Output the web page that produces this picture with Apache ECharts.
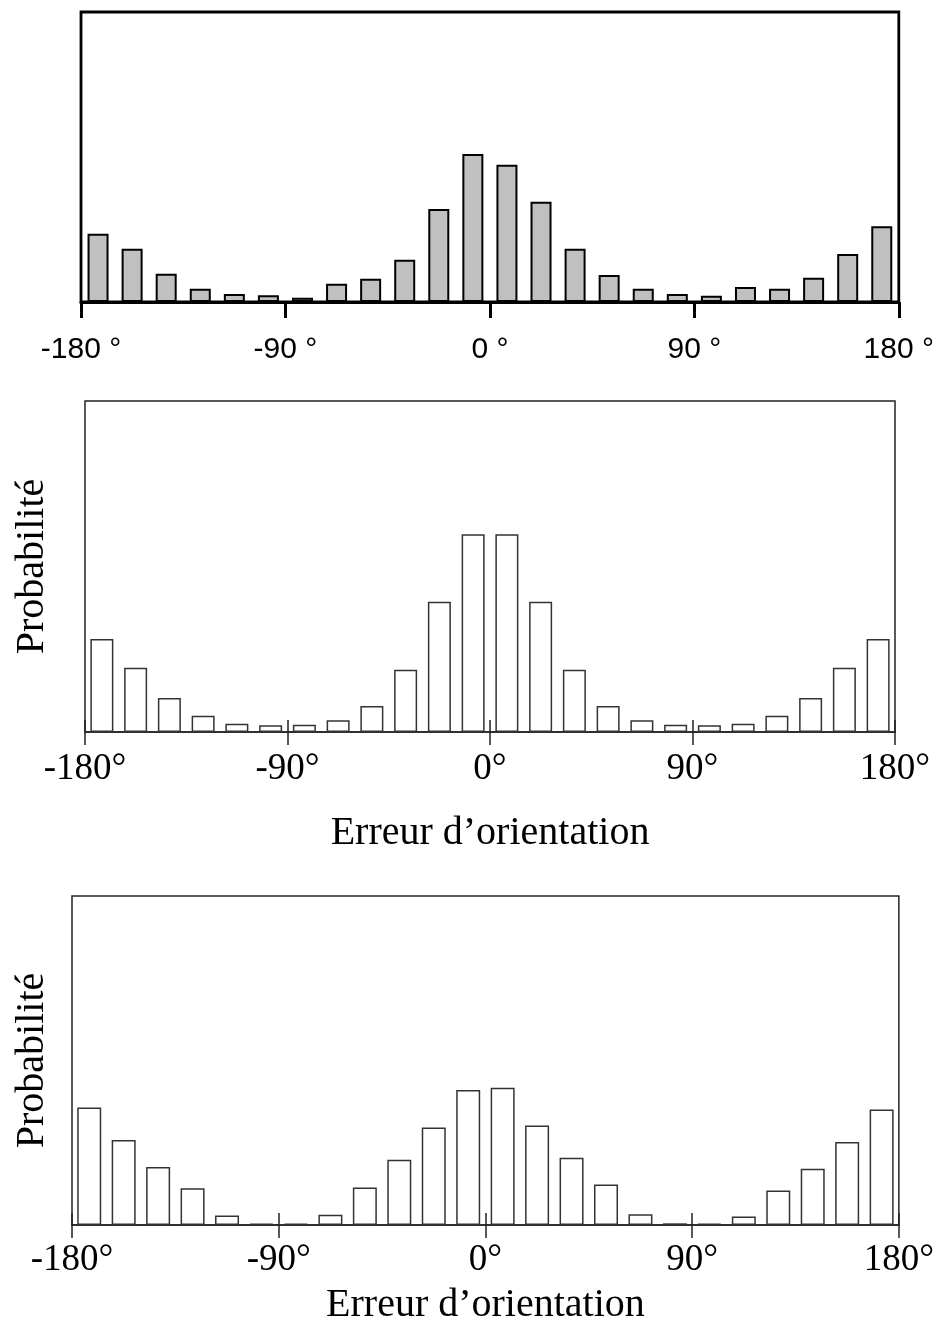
<!DOCTYPE html>
<html>
<head>
<meta charset="utf-8">
<script src="https://cdn.jsdelivr.net/npm/echarts@6/dist/echarts.min.js"></script>
<style>
html,body{margin:0;padding:0;background:#fff;}
#chart{width:937px;height:1326px;}
</style>
</head>
<body>
<div id="chart"></div>
<script>
// Bin centres (degrees), 15° bins from -180° to 180°
const binCenters = [-172.5, -157.5, -142.5, -127.5, -112.5, -97.5, -82.5, -67.5, -52.5, -37.5, -22.5, -7.5,
                    7.5, 22.5, 37.5, 52.5, 67.5, 82.5, 97.5, 112.5, 127.5, 142.5, 157.5, 172.5];
const tickValues = [-180, -90, 0, 90, 180];
const xAxisTitle = "Erreur d\u2019orientation";
const yAxisTitle = "Probabilité";

// Relative bar heights
const panelTop = [68.3, 53.3, 28.3, 13.3, 8, 6.7, 4.3, 18.3, 23.3, 42.3, 93, 148,
                  137.3, 100.3, 53.3, 27, 13.3, 8, 6.3, 15, 13.3, 24.3, 48, 75.7];
const panelMiddle = [93, 64.3, 34, 16.3, 8.3, 6.7, 7.3, 11.7, 26, 62.3, 130.3, 197.7,
                     197.7, 130.3, 62.3, 26, 11.7, 7.3, 6.7, 8.3, 16.3, 34, 64.3, 93];
const panelBottom = [119, 86, 58.7, 37.3, 9.7, 1.3, 1.3, 10.3, 38, 66, 98.7, 136.7,
                     139, 100.7, 68, 41, 11, 1.7, 1.3, 8.7, 35, 57, 84, 117];
const yMax = [290, 331, 333];

const pairs = vals => binCenters.map((c, i) => [c, vals[i]]);

const chart = echarts.init(document.getElementById('chart'), null, {renderer: 'canvas'});

const serif = 'Liberation Serif';
const sans = 'Liberation Sans';

const option = {
  animation: false,
  backgroundColor: '#fff',
  grid: [
    {left: 81, top: 12, width: 820, height: 290, show: true, borderColor: '#000', borderWidth: 2.8, backgroundColor: 'transparent'},
    {left: 85, top: 401, width: 810, height: 331, show: true, borderColor: '#222', borderWidth: 1.5, backgroundColor: 'transparent'},
    {left: 72, top: 896, width: 831, height: 333, show: true, borderColor: '#222', borderWidth: 1.5, backgroundColor: 'transparent'}
  ],
  xAxis: [
    // panel 1
    {gridIndex: 0, type: 'value', min: -180, max: 180, interval: 90, position: 'bottom',
     axisLine: {show: true, onZero: false, lineStyle: {color: '#000', width: 3}},
     axisTick: {show: true, inside: false, length: 16, lineStyle: {color: '#000', width: 3}},
     axisLabel: {show: true, margin: 33, fontFamily: sans, fontSize: 30, color: '#000',
                 formatter: v => v + ' \u00b0'},
     splitLine: {show: false}},
    // panel 2 bottom
    {gridIndex: 1, type: 'value', min: -180, max: 180, interval: 90, position: 'bottom',
     axisLine: {show: true, onZero: false, lineStyle: {color: '#222', width: 1.5}},
     axisTick: {show: true, inside: true, length: 12, lineStyle: {color: '#222', width: 1.5}},
     axisLabel: {show: true, margin: 19, fontFamily: serif, fontSize: 37, color: '#000',
                 formatter: v => v + '\u00b0'},
     name: xAxisTitle, nameLocation: 'middle', nameGap: 81,
     nameTextStyle: {fontFamily: serif, fontSize: 40, color: '#000'},
     splitLine: {show: false}},
    // panel 2 top
    {gridIndex: 1, type: 'value', min: -180, max: 180, interval: 90, position: 'top',
     axisLine: {show: false},
     axisTick: {show: true, inside: true, length: 13, lineStyle: {color: '#222', width: 1.5}},
     axisLabel: {show: false}, splitLine: {show: false}},
    // panel 3 bottom
    {gridIndex: 2, type: 'value', min: -180, max: 180, interval: 90, position: 'bottom',
     axisLine: {show: true, onZero: false, lineStyle: {color: '#222', width: 1.5}},
     axisTick: {show: true, inside: true, length: 12, lineStyle: {color: '#222', width: 1.5}},
     axisLabel: {show: true, margin: 17, fontFamily: serif, fontSize: 37, color: '#000',
                 formatter: v => v + '\u00b0'},
     name: xAxisTitle, nameLocation: 'middle', nameGap: 60,
     nameTextStyle: {fontFamily: serif, fontSize: 40, color: '#000'},
     splitLine: {show: false}},
    // panel 3 top
    {gridIndex: 2, type: 'value', min: -180, max: 180, interval: 90, position: 'top',
     axisLine: {show: false},
     axisTick: {show: true, inside: true, length: 13, lineStyle: {color: '#222', width: 1.5}},
     axisLabel: {show: false}, splitLine: {show: false}}
  ],
  yAxis: [
    {gridIndex: 0, type: 'value', min: 0, max: yMax[0], show: true,
     axisLine: {show: false}, axisTick: {show: false}, axisLabel: {show: false}, splitLine: {show: false}},
    {gridIndex: 1, type: 'value', min: 0, max: yMax[1], show: true,
     axisLine: {show: false}, axisTick: {show: false}, axisLabel: {show: false}, splitLine: {show: false},
     name: yAxisTitle, nameLocation: 'middle', nameGap: 33,
     nameTextStyle: {fontFamily: serif, fontSize: 40, color: '#000'}},
    {gridIndex: 2, type: 'value', min: 0, max: yMax[2], show: true,
     axisLine: {show: false}, axisTick: {show: false}, axisLabel: {show: false}, splitLine: {show: false},
     name: yAxisTitle, nameLocation: 'middle', nameGap: 20,
     nameTextStyle: {fontFamily: serif, fontSize: 40, color: '#000'}}
  ],
  series: [
    {type: 'bar', xAxisIndex: 0, yAxisIndex: 0, data: pairs(panelTop), barWidth: 21,
     itemStyle: {color: '#c0c0c0', borderColor: '#000', borderWidth: 2}, z: 1},
    {type: 'bar', xAxisIndex: 1, yAxisIndex: 1, data: pairs(panelMiddle), barWidth: 23,
     itemStyle: {color: '#fff', borderColor: '#333', borderWidth: 1.5}, z: 1},
    {type: 'bar', xAxisIndex: 3, yAxisIndex: 2, data: pairs(panelBottom), barWidth: 24,
     itemStyle: {color: '#fff', borderColor: '#333', borderWidth: 1.5}, z: 1}
  ]
};
chart.setOption(option);
</script>
</body>
</html>
